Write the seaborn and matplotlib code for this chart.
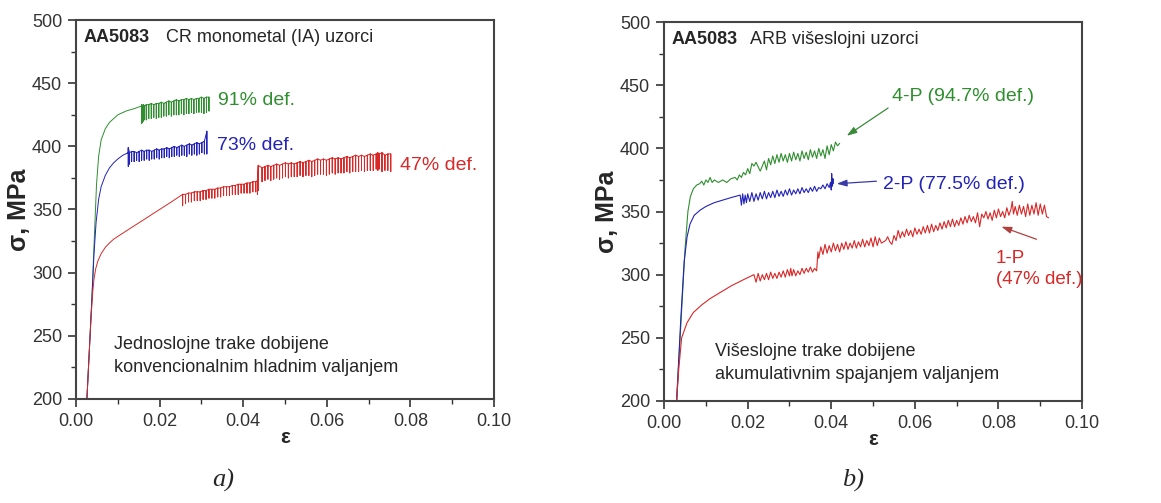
import matplotlib
matplotlib.use("Agg")
import matplotlib.pyplot as plt
import seaborn as sns
import pandas as pd
from matplotlib.ticker import MultipleLocator

# Colours
GREEN = "#2f8f2f"
BLUE = "#2323b8"
RED = "#d82828"

# ---- panel a) CR monometal samples: smooth part (strain, stress) ----
a_green_x = [0.0026, 0.0032, 0.0038, 0.0044, 0.0049, 0.0054, 0.006, 0.007, 0.008, 0.009, 0.010, 0.012, 0.014, 0.0157]
a_green_y = [200, 240, 280, 330, 370, 392, 405, 414, 419, 422, 425, 428, 430, 432]
a_blue_x = [0.0026, 0.0032, 0.0038, 0.0043, 0.0048, 0.0054, 0.006, 0.007, 0.008, 0.009, 0.010, 0.0112, 0.0125]
a_blue_y = [200, 240, 280, 315, 340, 358, 368, 377, 383, 387, 390, 393, 395]
a_red_x = [0.0026, 0.0032, 0.0036, 0.0040, 0.0043, 0.0047, 0.0052, 0.006, 0.007, 0.008, 0.009,
           0.0113, 0.0153, 0.020, 0.0228, 0.0255]
a_red_y = [200, 240, 265, 285, 295, 303, 309, 315, 320, 323.5, 326.5, 331.5, 340, 350, 356, 362]

# serrations: strain of each stress drop, stress before the drop (top) and after it (bottom)
a_green_teeth_x = [0.0157, 0.0159, 0.0161, 0.0163, 0.0168, 0.0174, 0.0180, 0.0186, 0.0192, 0.0198,
                   0.0204, 0.0210, 0.0216, 0.0222, 0.0228, 0.0234, 0.0240, 0.0246, 0.0252, 0.0258,
                   0.0264, 0.0270, 0.0276, 0.0282, 0.0288, 0.0294, 0.0300, 0.0306, 0.0312, 0.0318]
a_green_teeth_top = [433, 432, 433, 432, 433, 433, 434, 433, 434, 434, 435, 434, 435, 436, 435, 436,
                     437, 436, 437, 437, 438, 437, 438, 437, 438, 438, 439, 438, 439, 439]
a_green_teeth_bot = [418, 419, 420, 421, 421, 422, 422, 423, 422, 423, 423, 424, 424, 425, 424, 425,
                     425, 425, 426, 425, 426, 426, 427, 426, 427, 427, 427, 426, 427, 428]

a_blue_teeth_x = [0.0125, 0.0128, 0.0133, 0.0139, 0.0145, 0.0151, 0.0157, 0.0163, 0.0169, 0.0175,
                  0.0181, 0.0187, 0.0193, 0.0199, 0.0205, 0.0211, 0.0217, 0.0223, 0.0229, 0.0235,
                  0.0241, 0.0247, 0.0253, 0.0259, 0.0265, 0.0271, 0.0277, 0.0283, 0.0289, 0.0295,
                  0.0301, 0.0307, 0.0313]
a_blue_teeth_top = [399, 395, 396, 396, 395, 396, 397, 396, 397, 397, 396, 397, 398, 397, 398, 398,
                    399, 398, 399, 400, 399, 400, 401, 400, 401, 402, 401, 402, 403, 402, 403, 404, 412]
a_blue_teeth_bot = [384, 386, 388, 388, 389, 388, 389, 389, 390, 389, 390, 390, 391, 390, 391, 391,
                    392, 391, 392, 392, 393, 392, 393, 393, 392, 394, 393, 394, 393, 394, 395, 394, 394]

a_red_teeth_x = [0.0255, 0.0262, 0.0269, 0.0276, 0.0283, 0.0290, 0.0297, 0.0304, 0.0311, 0.0318,
                 0.0325, 0.0332, 0.0339, 0.0346, 0.0353, 0.0360, 0.0367, 0.0374, 0.0381, 0.0388,
                 0.0395, 0.0402, 0.0409, 0.0416, 0.0423, 0.0430, 0.0434, 0.0436,
                 0.0445, 0.0452, 0.0459, 0.0466, 0.0473, 0.0480, 0.0487, 0.0494, 0.0501, 0.0508,
                 0.0515, 0.0522, 0.0529, 0.0536, 0.0543, 0.0550, 0.0557, 0.0564, 0.0571, 0.0578,
                 0.0585, 0.0592, 0.0599, 0.0606, 0.0613, 0.0620, 0.0627, 0.0634, 0.0641, 0.0648,
                 0.0655, 0.0662, 0.0669, 0.0676, 0.0683, 0.0690, 0.0697, 0.0704, 0.0711, 0.0718,
                 0.0722, 0.0725, 0.0732, 0.0739, 0.0746, 0.0753]
a_red_teeth_top = [362, 362, 363, 363, 364, 364, 364, 365, 365, 366, 366, 366, 367, 367, 368, 368,
                   368, 369, 369, 370, 370, 370, 371, 371, 372, 372, 373, 385,
                   383, 384, 385, 384, 385, 386, 385, 386, 387, 386, 387, 386, 387, 388, 387, 388,
                   389, 388, 389, 390, 389, 390, 389, 390, 391, 390, 391, 390, 391, 392, 391, 392,
                   393, 392, 393, 392, 393, 394, 393, 394, 395, 394, 395, 393, 394, 394]
a_red_teeth_bot = [353, 355, 356, 356, 357, 357, 357, 358, 358, 359, 359, 359, 360, 360, 361, 361,
                   361, 362, 362, 362, 363, 363, 363, 363, 364, 364, 362, 365,
                   372, 373, 374, 373, 374, 375, 374, 375, 376, 375, 376, 376, 376, 377, 376, 377,
                   377, 376, 377, 378, 378, 378, 377, 378, 379, 378, 379, 379, 379, 380, 379, 380,
                   380, 380, 381, 380, 381, 381, 381, 382, 381, 382, 380, 381, 381, 380]

# ---- panel b) ARB multilayer samples ----
b_green_x = [0.0030, 0.0040, 0.0050, 0.0057, 0.0063, 0.0070, 0.0078, 0.0085,
             0.009, 0.0095, 0.010, 0.0105, 0.011, 0.0115, 0.012, 0.013, 0.014, 0.015, 0.016, 0.017,
             0.0175, 0.018, 0.0185, 0.019, 0.0195, 0.020, 0.0205, 0.021, 0.0215, 0.022, 0.023,
             0.0235, 0.024, 0.0245, 0.025, 0.0255, 0.026, 0.0265, 0.027, 0.0275, 0.028, 0.0285,
             0.029, 0.0295, 0.030, 0.0305, 0.031, 0.0315, 0.032, 0.0325, 0.033, 0.0335, 0.034,
             0.0345, 0.035, 0.0355, 0.036, 0.0365, 0.037, 0.0375, 0.038, 0.0385, 0.039, 0.0395,
             0.040, 0.0405, 0.041, 0.0415, 0.042]
b_green_y = [200, 260, 320, 350, 362, 368, 371, 372,
             374, 371, 375, 373, 377, 373, 375, 373, 375, 373, 376, 377,
             375, 379, 377, 381, 379, 384, 380, 388, 386, 389, 382,
             386, 390, 383, 392, 387, 394, 388, 395, 389, 396, 390,
             395, 389, 396, 390, 397, 391, 396, 390, 398, 392, 397,
             391, 399, 393, 398, 392, 400, 394, 399, 392, 402, 395,
             403, 398, 405, 402, 404]

b_blue_x = [0.0030, 0.0040, 0.0048, 0.0055, 0.0062, 0.0072, 0.0086, 0.010, 0.012, 0.014, 0.016, 0.0182,
            0.0185, 0.0188, 0.0191, 0.0194, 0.0197, 0.020, 0.0205, 0.021, 0.0215, 0.022, 0.0225,
            0.023, 0.0235, 0.024, 0.0245, 0.025, 0.0255, 0.026, 0.0265, 0.027, 0.0275, 0.028,
            0.0285, 0.029, 0.0295, 0.030, 0.0305, 0.031, 0.0315, 0.032, 0.0325, 0.033, 0.0335,
            0.034, 0.0345, 0.035, 0.0355, 0.036, 0.0365, 0.037, 0.0375, 0.038, 0.0385, 0.039,
            0.0395, 0.0398, 0.0400, 0.0401, 0.0402, 0.0404, 0.0405]
b_blue_y = [200, 265, 310, 330, 340, 347, 351, 354, 357, 359, 361, 363,
            355, 364, 356, 363, 357, 364, 358, 365, 358, 364, 359,
            365, 360, 366, 360, 365, 361, 366, 361, 367, 362, 366,
            362, 367, 363, 368, 363, 367, 364, 368, 364, 369, 365,
            368, 365, 369, 366, 370, 366, 369, 368, 371, 368, 372,
            369, 373, 367, 380, 370, 376, 372]

b_red_x = [0.0030, 0.0035, 0.0042, 0.0055, 0.007, 0.009, 0.011, 0.0135, 0.016, 0.019, 0.0215,
           0.022, 0.0225, 0.023, 0.0235, 0.024, 0.0245, 0.025, 0.0255, 0.026, 0.0265, 0.027,
           0.0275, 0.028, 0.0285, 0.029, 0.0295, 0.030, 0.0303, 0.0306, 0.031, 0.0315, 0.032,
           0.0325, 0.033, 0.0335, 0.034, 0.0345, 0.035, 0.0355, 0.036, 0.0365, 0.0368, 0.037,
           0.0375, 0.038, 0.0385, 0.039, 0.0395, 0.040, 0.0405, 0.041, 0.0415, 0.042, 0.0425,
           0.043, 0.0435, 0.044, 0.0445, 0.045, 0.0455, 0.046, 0.0465, 0.047, 0.0475, 0.048,
           0.0485, 0.049, 0.0495, 0.050, 0.0505, 0.051, 0.0515, 0.052, 0.053, 0.0535, 0.054,
           0.0545, 0.055, 0.0555, 0.056, 0.0565, 0.057, 0.0575, 0.058, 0.0585, 0.059, 0.0595,
           0.060, 0.0605, 0.061, 0.0615, 0.062, 0.0625, 0.063, 0.0635, 0.064, 0.0645, 0.065,
           0.0655, 0.066, 0.0665, 0.067, 0.0675, 0.068, 0.0685, 0.069, 0.0695, 0.070, 0.0705,
           0.071, 0.0715, 0.072, 0.0725, 0.073, 0.0735, 0.074, 0.0745, 0.075, 0.0755, 0.076,
           0.0765, 0.077, 0.0775, 0.078, 0.0785, 0.079, 0.0795, 0.080, 0.0805, 0.081, 0.0815,
           0.082, 0.0825, 0.083, 0.0833, 0.0836, 0.084, 0.0845, 0.085, 0.0855, 0.086, 0.0865,
           0.087, 0.0875, 0.088, 0.0885, 0.089, 0.0895, 0.090, 0.0905, 0.091, 0.0915, 0.092]
b_red_y = [200, 225, 250, 262, 270, 276, 281, 286, 291, 296, 300,
           294, 301, 295, 300, 296, 301, 296, 302, 297, 301, 297,
           302, 298, 303, 298, 304, 299, 305, 299, 304, 299, 303,
           300, 305, 301, 305, 302, 306, 302, 305, 303, 318, 313,
           322, 316, 324, 317, 323, 318, 325, 319, 324, 318, 325,
           320, 326, 320, 325, 321, 327, 321, 326, 322, 328, 322,
           327, 323, 329, 322, 330, 323, 329, 325, 327, 330, 326,
           324, 331, 327, 335, 329, 334, 330, 336, 331, 335, 330,
           337, 332, 336, 332, 338, 333, 339, 333, 340, 334, 339,
           335, 341, 336, 342, 337, 343, 338, 344, 338, 343, 339,
           345, 340, 346, 341, 347, 342, 346, 341, 349, 338, 348,
           345, 350, 344, 349, 343, 351, 345, 352, 346, 350, 345,
           353, 347, 352, 358, 348, 354, 347, 355, 348, 354, 346,
           356, 347, 355, 348, 357, 347, 356, 348, 355, 346, 345]


def with_teeth(x, y, tx, top, bot):
    # smooth part, then the serrated part: run along the top, drop to the bottom, reload
    xs, ys = list(x), list(y)
    for xi, t, b in zip(tx, top, bot):
        xs += [xi, xi, xi]
        ys += [t, b, t]
    return xs, ys


def frame(name, x, y):
    return pd.DataFrame({"curve": name, "strain": x, "stress": y})


parts = []
for name, sx, sy, tx, tt, tb in [
    ("91%", a_green_x, a_green_y, a_green_teeth_x, a_green_teeth_top, a_green_teeth_bot),
    ("73%", a_blue_x, a_blue_y, a_blue_teeth_x, a_blue_teeth_top, a_blue_teeth_bot),
    ("47%", a_red_x, a_red_y, a_red_teeth_x, a_red_teeth_top, a_red_teeth_bot),
]:
    xs, ys = with_teeth(sx, sy, tx, tt, tb)
    parts.append(frame(name, xs, ys))
df_a = pd.concat(parts)

df_b = pd.concat([frame("4-P", b_green_x, b_green_y),
                  frame("2-P", b_blue_x, b_blue_y),
                  frame("1-P", b_red_x, b_red_y)])

sns.set_style("ticks")
plt.rcParams["font.family"] = ["Liberation Sans", "DejaVu Sans"]

fig = plt.figure(figsize=(11.61, 5.03), dpi=100)
ax1 = fig.add_axes([0.0655, 0.207, 0.360, 0.753])
ax2 = fig.add_axes([0.572, 0.203, 0.360, 0.753])

pal_a = {"91%": GREEN, "73%": BLUE, "47%": RED}
pal_b = {"4-P": GREEN, "2-P": BLUE, "1-P": RED}

sns.lineplot(data=df_a, x="strain", y="stress", hue="curve", palette=pal_a, units="curve",
             estimator=None, sort=False, linewidth=0.7, legend=False, ax=ax1)
sns.lineplot(data=df_b, x="strain", y="stress", hue="curve", palette=pal_b, units="curve",
             estimator=None, sort=False, linewidth=0.8, legend=False, ax=ax2)

for ax in (ax1, ax2):
    ax.set_xlim(0, 0.10)
    ax.set_ylim(200, 500)
    ax.xaxis.set_major_locator(MultipleLocator(0.02))
    ax.xaxis.set_minor_locator(MultipleLocator(0.01))
    ax.yaxis.set_major_locator(MultipleLocator(50))
    ax.yaxis.set_minor_locator(MultipleLocator(25))
    ax.set_xticklabels([f"{v:.2f}" for v in ax.get_xticks()])
    ax.tick_params(which="major", direction="out", length=6, width=1.2, labelsize=13,
                   colors="#333333", pad=4)
    ax.tick_params(which="minor", direction="out", length=3.5, width=1.0, colors="#333333")
    for s in ax.spines.values():
        s.set_color("#444444")
        s.set_linewidth(1.5)
        s.set_visible(True)
    ax.set_xlabel("ε", fontsize=15, fontweight="bold", labelpad=-1)
    ax.set_ylabel("σ, MPa", fontsize=18, fontweight="bold", labelpad=1)

arrow = dict(arrowstyle="-|>,head_length=0.6,head_width=0.2", lw=0.9, shrinkA=0, shrinkB=0)

# panel a annotations
ax1.text(0.0019, 486, "AA5083", fontsize=13, fontweight="bold", va="center")
ax1.text(0.0215, 486, "CR monometal (IA) uzorci", fontsize=13, va="center")
ax1.text(0.034, 436, "91% def.", color=GREEN, fontsize=14, va="center")
ax1.text(0.0337, 401, "73% def.", color=BLUE, fontsize=14, va="center")
ax1.text(0.0775, 385, "47% def.", color=RED, fontsize=14, va="center")
ax1.text(0.009, 234, "Jednoslojne trake dobijene\nkonvencionalnim hladnim valjanjem",
         fontsize=13, va="center", linespacing=1.45)

# panel b annotations
ax2.text(0.0019, 486, "AA5083", fontsize=13, fontweight="bold", va="center")
ax2.text(0.0205, 486, "ARB višeslojni uzorci", fontsize=13, va="center")
ax2.text(0.0545, 441, "4-P (94.7% def.)", color=GREEN, fontsize=14, va="center")
ax2.annotate("", xy=(0.0437, 410), xytext=(0.0536, 432), arrowprops=dict(arrow, color="#3a8a3a"))
ax2.text(0.0524, 371, "2-P (77.5% def.)", color=BLUE, fontsize=14, va="center")
ax2.annotate("", xy=(0.0413, 372), xytext=(0.0508, 374), arrowprops=dict(arrow, color="#3a3aa8"))
ax2.text(0.0793, 304.5, "1-P\n(47% def.)", color=RED, fontsize=13.5, va="center", linespacing=1.25)
ax2.annotate("", xy=(0.0807, 338), xytext=(0.0891, 328), arrowprops=dict(arrow, color="#b04040"))
ax2.text(0.0122, 230, "Višeslojne trake dobijene\nakumulativnim spajanjem valjanjem",
         fontsize=13, va="center", linespacing=1.45)

# panel captions
fig.text(223 / 1161, 1 - 480 / 503, "a)", fontsize=19, style="italic",
         family=["Liberation Serif", "DejaVu Serif"], ha="center", va="center")
fig.text(853 / 1161, 1 - 480 / 503, "b)", fontsize=19, style="italic",
         family=["Liberation Serif", "DejaVu Serif"], ha="center", va="center")

fig.savefig("out.png", dpi=100, facecolor="white")
